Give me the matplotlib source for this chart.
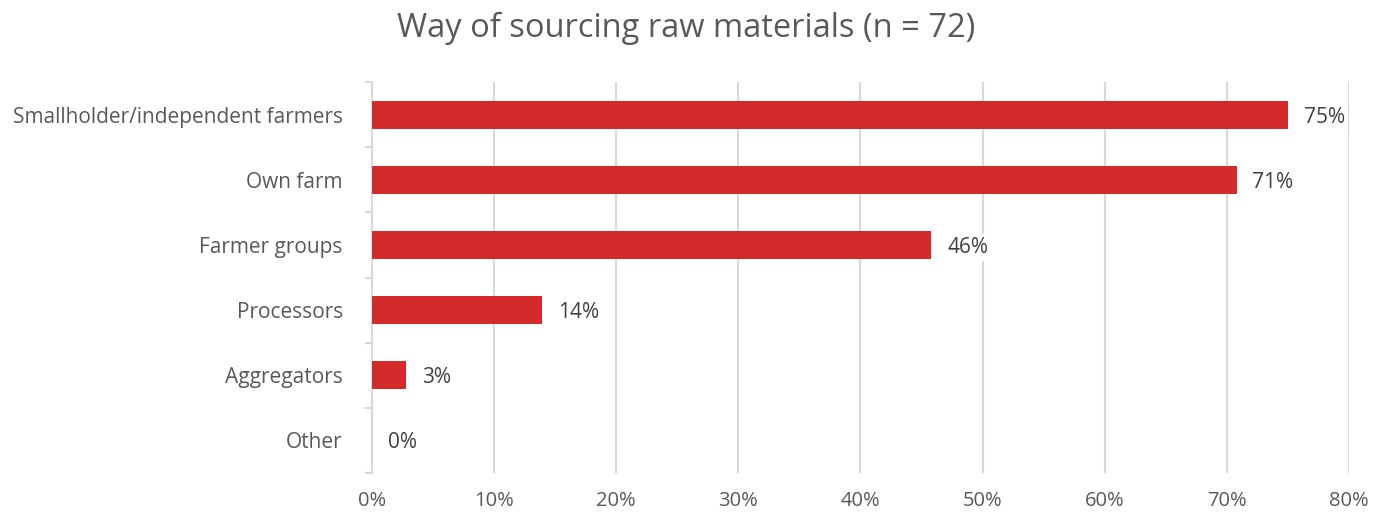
import matplotlib
matplotlib.use("Agg")
import matplotlib.pyplot as plt
import numpy as np

categories = ["Smallholder/independent farmers", "Own farm", "Farmer groups",
              "Processors", "Aggregators", "Other"]
values = [75.0, 70.8, 45.8, 13.9, 2.8, 0.0]
labels = ["75%", "71%", "46%", "14%", "3%", "0%"]
xticks = [0, 10, 20, 30, 40, 50, 60, 70, 80]
xticklabels = [f"{t}%" for t in xticks]

plt.rcParams['font.family'] = ['Open Sans', 'DejaVu Sans']
txt = "#595959"
grid = "#D9D9D9"
bar_color = "#D32B2B"

fig = plt.figure(figsize=(13.73, 5.13), dpi=100)
ax = fig.add_axes([0.2709, 0.078, 0.7116, 0.762])

y = np.arange(len(categories))
ax.barh(y, values, height=0.43, color=bar_color, zorder=3)
ax.set_ylim(len(categories) - 0.5, -0.5)
ax.set_xlim(0, 80)

ax.set_xticks(xticks)
ax.set_xticklabels(xticklabels, fontsize=14.5, color=txt)
ax.tick_params(axis='x', length=0, pad=13)
ax.xaxis.grid(True, color=grid, linewidth=1.5, zorder=0)

ax.set_yticks(y)
ax.set_yticklabels(categories, fontsize=15, color=txt)
ax.tick_params(axis='y', which='major', length=0, pad=21)
ax.set_yticks(np.arange(-0.5, len(categories), 1.0), minor=True)
ax.tick_params(axis='y', which='minor', length=5, color=grid, width=1.5)

for s in ["top", "right", "bottom"]:
    ax.spines[s].set_visible(False)
ax.spines["left"].set_color(grid)
ax.spines["left"].set_linewidth(1.5)

for yi, v, lab in zip(y, values, labels):
    ax.text(v + 1.3, yi, lab, va='center_baseline', ha='left', fontsize=15, color="#404040",
            zorder=4, bbox=dict(facecolor='white', edgecolor='none', pad=2))

fig.text(0.5, 0.945, "Way of sourcing raw materials (n = 72)", ha='center', va='center',
         fontsize=23.5, color=txt)

fig.savefig("out.png", dpi=100)
